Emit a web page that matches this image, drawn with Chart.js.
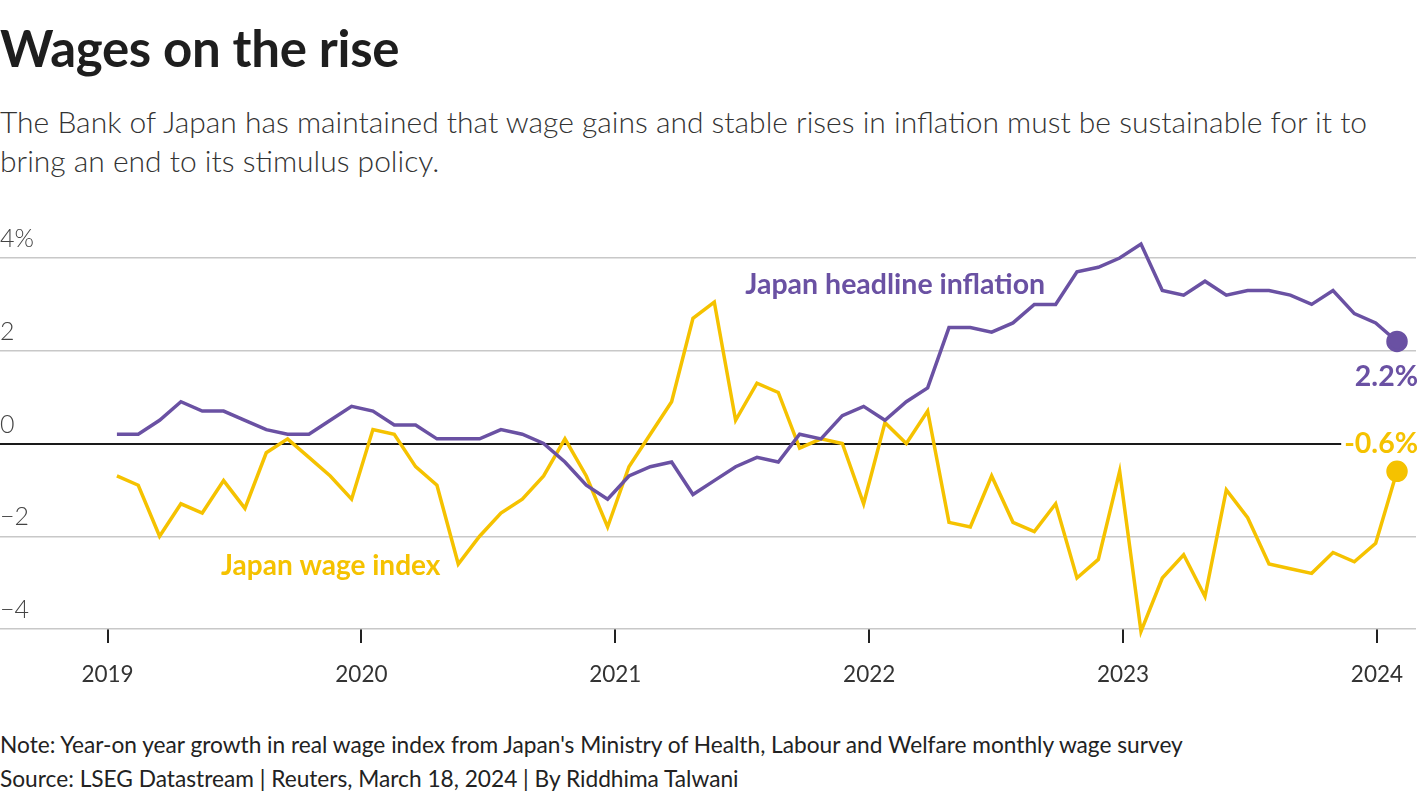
<!DOCTYPE html>
<html>
<head>
<meta charset="utf-8">
<script src="https://cdn.jsdelivr.net/npm/chart.js@4.4.1/dist/chart.umd.min.js"></script>
<style>
  html, body { margin: 0; padding: 0; background: #fff; }
  body { width: 1420px; height: 800px; position: relative; overflow: hidden; font-family: Lato, "Noto Sans", sans-serif; color: #1e1e1e; }
  #title { position: absolute; left: 0; top: 17px; font-size: 51px; font-weight: 700; letter-spacing: -0.3px; }
  #sub { position: absolute; left: 0; top: 102px; width: 1410px; font-size: 30px; font-weight: 300; line-height: 39px; color: #333; }
  #wrap { position: absolute; left: 0; top: 200px; width: 1420px; height: 506px; }
  .foot { position: absolute; left: 0; font-size: 22.7px; color: #222; }
</style>
</head>
<body>
<div id="title">Wages on the rise</div>
<div id="sub">The Bank of Japan has maintained that wage gains and stable rises in inflation must be sustainable for it to bring an end to its stimulus policy.</div>
<div id="wrap"><canvas id="chart"></canvas></div>
<div class="foot" style="top:731px">Note: Year-on year growth in real wage index from Japan's Ministry of Health, Labour and Welfare monthly wage survey</div>
<div class="foot" style="top:765px">Source: LSEG Datastream | Reuters, March 18, 2024 | By Riddhima Talwani</div>
<script>
// monthly values, Jan 2019 .. Jan 2024
const yearLabels = ['2019', '2020', '2021', '2022', '2023', '2024'];
const inflation = [
  0.2, 0.2, 0.5, 0.9, 0.7, 0.7, 0.5, 0.3, 0.2, 0.2, 0.5, 0.8,
  0.7, 0.4, 0.4, 0.1, 0.1, 0.1, 0.3, 0.2, 0.0, -0.4, -0.9, -1.2,
  -0.7, -0.5, -0.4, -1.1, -0.8, -0.5, -0.3, -0.4, 0.2, 0.1, 0.6, 0.8,
  0.5, 0.9, 1.2, 2.5, 2.5, 2.4, 2.6, 3.0, 3.0, 3.7, 3.8, 4.0,
  4.3, 3.3, 3.2, 3.5, 3.2, 3.3, 3.3, 3.2, 3.0, 3.3, 2.8, 2.6,
  2.2
];
const wages = [
  -0.7, -0.9, -2.0, -1.3, -1.5, -0.8, -1.4, -0.2, 0.1, -0.3, -0.7, -1.2,
  0.3, 0.2, -0.5, -0.9, -2.6, -2.0, -1.5, -1.2, -0.7, 0.1, -0.7, -1.8,
  -0.5, 0.2, 0.9, 2.7, 3.05, 0.5, 1.3, 1.1, -0.1, 0.1, 0.0, -1.3,
  0.45, 0.0, 0.7, -1.7, -1.8, -0.7, -1.7, -1.9, -1.3, -2.9, -2.5, -0.6,
  -4.05, -2.9, -2.4, -3.3, -1.0, -1.6, -2.6, -2.7, -2.8, -2.35, -2.55, -2.15,
  -0.6
];
const yTicks = [-4, -2, 0, 2, 4];
const yTickLabels = ['\u22124', '\u22122', '0', '2', '4%'];

const PURPLE = '#6a51a3';
const YELLOW = '#f5c200';
const FONT = 'Lato, "Noto Sans", sans-serif';

const toPoints = arr => arr.map((v, i) => ({ x: i, y: v }));

// series names and end-value labels
const labelPlugin = {
  id: 'labels',
  afterDatasetsDraw(chart) {
    const c = chart.ctx, xs = chart.scales.x, ys = chart.scales.y;
    c.save();
    c.font = '700 28.5px ' + FONT;
    c.textBaseline = 'middle';
    c.fillStyle = PURPLE;
    c.textAlign = 'left';
    c.fillText('Japan headline inflation', xs.getPixelForValue(29.45), ys.getPixelForValue(3.42));
    c.fillStyle = YELLOW;
    c.font = '700 28px ' + FONT;
    c.fillText('Japan wage index', xs.getPixelForValue(4.88), ys.getPixelForValue(-2.64));

    // end labels
    c.font = '700 28.5px ' + FONT;
    const last = inflation.length - 1;
    const px = xs.getPixelForValue(last) + 21;
    c.textAlign = 'right';
    c.fillStyle = PURPLE;
    c.fillText(inflation[last].toFixed(1) + '%', px, ys.getPixelForValue(inflation[last]) + 35);
    const wTxt = wages[last].toFixed(1) + '%';
    const wy = ys.getPixelForValue(0);
    const w = c.measureText(wTxt).width;
    c.fillStyle = '#fff';
    c.fillRect(px - w - 3, wy - 15, w + 8, 30);
    c.fillStyle = YELLOW;
    c.fillText(wTxt, px, wy);
    c.restore();
  }
};

new Chart(document.getElementById('chart'), {
  type: 'line',
  data: {
    datasets: [
      {
        label: 'Japan headline inflation',
        data: toPoints(inflation),
        borderColor: PURPLE,
        backgroundColor: PURPLE,
        borderWidth: 3.5,
        tension: 0,
        clip: false,
        pointRadius: ctx => ctx.dataIndex === inflation.length - 1 ? 9 : 0,
        pointHoverRadius: 0
      },
      {
        label: 'Japan wage index',
        data: toPoints(wages),
        borderColor: YELLOW,
        backgroundColor: YELLOW,
        borderWidth: 3.5,
        tension: 0,
        clip: false,
        pointRadius: ctx => ctx.dataIndex === wages.length - 1 ? 9 : 0,
        pointHoverRadius: 0
      }
    ]
  },
  options: {
    responsive: true,
    maintainAspectRatio: false,
    animation: false,
    layout: { autoPadding: false, padding: { top: 58, right: 4, left: 0, bottom: 0 } },
    plugins: { legend: { display: false }, tooltip: { enabled: false } },
    scales: {
      x: {
        type: 'linear',
        min: -5.48,
        max: 60.89,
        // year ticks sit just before each January point
        afterBuildTicks: axis => {
          axis.ticks = yearLabels.map((_, k) => ({ value: 11.9 * k - 0.44 }));
        },
        afterFit: axis => { axis.paddingLeft = 0; axis.paddingRight = 0; },
        border: { display: false },
        grid: { display: true, drawOnChartArea: false, drawTicks: true, tickLength: 14, color: '#222', lineWidth: 2 },
        ticks: {
          autoSkip: false,
          maxRotation: 0,
          padding: 18,
          color: '#333',
          font: { family: FONT, size: 22.5 },
          callback: (v, i) => yearLabels[i]
        }
      },
      y: {
        min: -4,
        max: 4,
        afterBuildTicks: axis => {
          axis.ticks = yTicks.map(v => ({ value: v }));
        },
        afterFit: axis => { axis.width = 0; },
        border: { display: false },
        grid: {
          drawTicks: false,
          color: ctx => ctx.tick && ctx.tick.value === 0 ? '#1a1a1a' : '#c8c8c8',
          lineWidth: ctx => ctx.tick && ctx.tick.value === 0 ? 2 : 1.5
        },
        ticks: {
          mirror: true,
          padding: 0,
          labelOffset: -19,
          color: '#444',
          font: { family: FONT, size: 25, weight: 300 },
          callback: v => yTickLabels[yTicks.indexOf(v)]
        }
      }
    }
  },
  plugins: [labelPlugin]
});
</script>
</body>
</html>
